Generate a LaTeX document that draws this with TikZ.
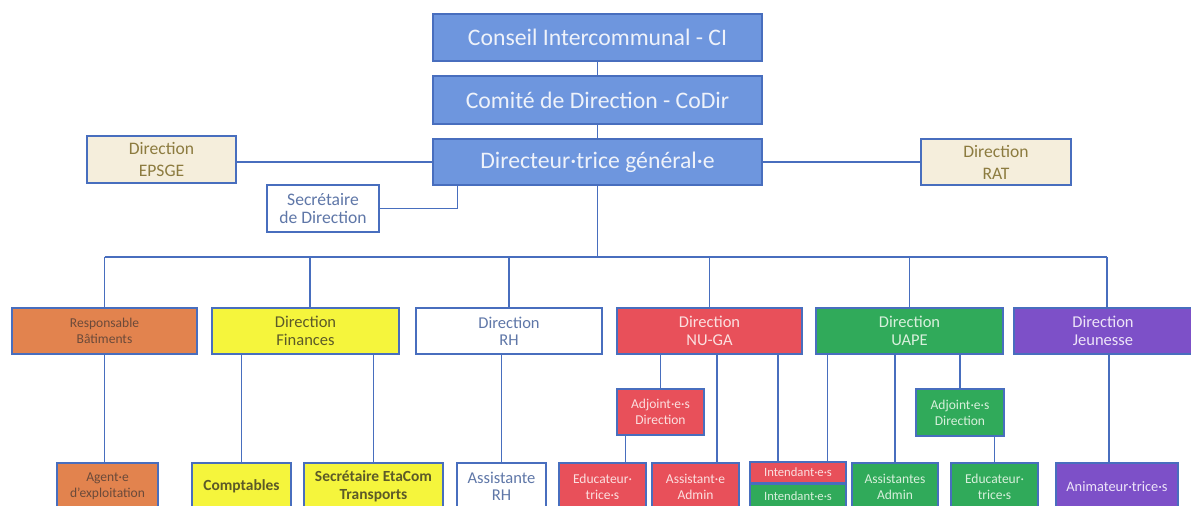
\documentclass[tikz,border=0pt]{standalone}
\usepackage{fontspec}
\setmainfont{Carlito}
\definecolor{bfill}{RGB}{110,150,222}
\definecolor{bline}{RGB}{72,110,190}
\definecolor{btext}{RGB}{238,242,250}
\definecolor{beige}{RGB}{245,238,220}
\definecolor{beigetext}{RGB}{140,123,63}
\definecolor{wtext}{RGB}{95,119,168}
\definecolor{orfill}{RGB}{226,131,78}
\definecolor{ortext}{RGB}{107,74,58}
\definecolor{yfill}{RGB}{245,245,60}
\definecolor{ytext}{RGB}{92,90,40}
\definecolor{rfill}{RGB}{232,80,90}
\definecolor{rtext}{RGB}{251,224,224}
\definecolor{gfill}{RGB}{48,170,90}
\definecolor{gtext}{RGB}{216,240,220}
\definecolor{pfill}{RGB}{125,80,200}
\definecolor{ptext}{RGB}{237,228,248}
\tikzset{
  box/.style={draw=bline, line width=0.9pt, align=center, inner sep=1pt, font=\fontsize{9.4}{9.9}\selectfont},
  topbox/.style={box, fill=bfill, text=btext, minimum width=6.58cm, font=\fontsize{13.5}{15}\selectfont},
  beigebox/.style={box, fill=beige, text=beigetext, font=\fontsize{10}{12.5}\selectfont},
  whitebox/.style={box, fill=white, text=wtext},
  orbox/.style={box, fill=orfill, text=ortext},
  ybox/.style={box, fill=yfill, text=ytext, font=\bfseries\fontsize{8.8}{10}\selectfont},
  rbox/.style={box, fill=rfill, text=rtext},
  gbox/.style={box, fill=gfill, text=gtext},
  pbox/.style={box, fill=pfill, text=ptext},
  small/.style={font=\fontsize{7.7}{9.2}\selectfont},
  conn/.style={draw=bline, line width=0.8pt},
}
\begin{document}
\begin{tikzpicture}[x=0.02cm, y=-0.02cm]
\clip (0,0) rectangle (1191,506);
\fill[white] (0,0) rectangle (1191,506);
% top
\node[topbox, minimum height=0.94cm] (CI) at (597.5,37.5) {Conseil Intercommunal - CI};
\node[topbox, minimum height=0.96cm] (CoDir) at (597.5,100) {Comité de Direction - CoDir};
\node[topbox, minimum height=0.92cm] (DG) at (597.5,162) {Directeur·trice général·e};
\node[beigebox, minimum width=2.98cm, minimum height=0.94cm] (EPSGE) at (161.5,159.5) {Direction\\EPSGE};
\node[beigebox, minimum width=3.0cm, minimum height=0.92cm] (RAT) at (996,162) {Direction\\RAT};
\node[whitebox, font=\fontsize{10}{10.6}\selectfont, minimum width=2.24cm, minimum height=0.94cm] (SecDir) at (323,208.5) {Secrétaire\\de Direction};
% row 2
\node[orbox, small, minimum width=3.7cm, minimum height=0.92cm] (Bat) at (104.5,331) {Responsable\\Bâtiments};
\node[ybox, font=\fontsize{9.4}{9.9}\selectfont, minimum width=3.74cm, minimum height=0.92cm] (Fin) at (305.5,331) {Direction\\Finances};
\node[whitebox, minimum width=3.72cm, minimum height=0.92cm] (RH) at (509,331) {Direction\\RH};
\node[rbox, minimum width=3.7cm, minimum height=0.92cm] (NUGA) at (709.5,331) {Direction\\NU-GA};
\node[gbox, minimum width=3.74cm, minimum height=0.92cm] (UAPE) at (909.5,331) {Direction\\UAPE};
\node[pbox, minimum width=3.56cm, minimum height=0.92cm] (Jeun) at (1103,331) {Direction\\Jeunesse};
% adjoints
\node[rbox, small, minimum width=1.74cm, minimum height=0.92cm] (AdjNU) at (660.5,412) {Adjoint·e·s\\Direction};
\node[gbox, small, minimum width=1.76cm, minimum height=0.94cm] (AdjUA) at (960,412.5) {Adjoint·e·s\\Direction};
% row 3
\node[orbox, small, minimum width=2.02cm, minimum height=0.94cm] (Agent) at (107.5,486.5) {Agent·e\\d'exploitation};
\node[ybox, minimum width=1.98cm, minimum height=0.94cm] (Compt) at (241.5,486.5) {Comptables};
\node[ybox, minimum width=2.78cm, minimum height=0.94cm] (SecEta) at (373.5,486.5) {Secrétaire EtaCom\\Transports};
\node[whitebox, minimum width=1.78cm, minimum height=0.94cm] (AssRH) at (501.5,486.5) {Assistante\\RH};
\node[rbox, small, minimum width=1.74cm, minimum height=0.94cm] (EducNU) at (602.5,486.5) {Educateur·\\trice·s};
\node[rbox, small, minimum width=1.74cm, minimum height=0.94cm] (AssNU) at (695.5,486.5) {Assistant·e\\Admin};
\node[rbox, small, font=\fontsize{7.2}{8.5}\selectfont, minimum width=1.92cm, minimum height=0.42cm] (IntR) at (798,472.5) {Intendant·e·s};
\node[gbox, small, font=\fontsize{7.2}{8.5}\selectfont, minimum width=1.92cm, minimum height=0.48cm, anchor=north] (IntG) at (IntR.south) {Intendant·e·s};
\node[gbox, small, minimum width=1.72cm, minimum height=0.94cm] (AssUA) at (895,486.5) {Assistantes\\Admin};
\node[gbox, small, minimum width=1.74cm, minimum height=0.94cm] (EducUA) at (994.5,486.5) {Educateur·\\trice·s};
\node[pbox, small, font=\fontsize{8.2}{9.5}\selectfont, minimum width=2.44cm, minimum height=0.94cm] (Anim) at (1117,486.5) {Animateur·trice·s};
% connectors
\draw[conn] (CI.south) -- (CoDir.north);
\draw[conn] (CoDir.south) -- (DG.north);
\draw[conn] (DG.west) -- (DG.west -| EPSGE.east);
\draw[conn] (DG.east) -- (RAT.west);
\draw[conn] (SecDir.east) -| ([xshift=0.5cm]DG.south west);
\coordinate (bus) at (597.5,257);
\draw[conn] (DG.south) -- (bus);
\draw[conn] (Bat.north |- bus) -- ([xshift=0.08cm]Jeun.north |- bus);
\foreach \n in {Bat,RH,NUGA,UAPE} \draw[conn] (\n.north) -- (\n.north |- bus);
\draw[conn] ([xshift=0.09cm]Fin.north) -- ([xshift=0.09cm]Fin.north |- bus);
\draw[conn] ([xshift=0.08cm]Jeun.north) -- ([xshift=0.08cm]Jeun.north |- bus);
\draw[conn] (Bat.south) -- (Bat.south |- Agent.north);
\draw[conn] (Compt.north) -- (Compt.north |- Fin.south);
\draw[conn] (SecEta.north) -- (SecEta.north |- Fin.south);
\draw[conn] (AssRH.north) -- (AssRH.north |- RH.south);
\draw[conn] (AdjNU.north) -- (AdjNU.north |- NUGA.south);
\draw[conn] ([xshift=0.18cm]AdjNU.south west) -- ([xshift=0.18cm]AdjNU.south west |- EducNU.north);
\draw[conn] ([xshift=0.15cm]NUGA.south) -- ([xshift=0.15cm]NUGA.south |- AssNU.north);
\draw[conn] ([xshift=1.37cm]NUGA.south) -- ([xshift=1.37cm]NUGA.south |- IntR.north);
\draw[conn] ([xshift=0.24cm]UAPE.south west) -- ([xshift=0.24cm]UAPE.south west |- IntR.north);
\draw[conn] (AssUA.north) -- (AssUA.north |- UAPE.south);
\draw[conn] (AdjUA.north) -- (AdjUA.north |- UAPE.south);
\draw[conn] (EducUA.north) -- (EducUA.north |- AdjUA.south);
\draw[conn] ([xshift=0.12cm]Jeun.south) -- ([xshift=0.12cm]Jeun.south |- Anim.north);
\end{tikzpicture}
\end{document}
